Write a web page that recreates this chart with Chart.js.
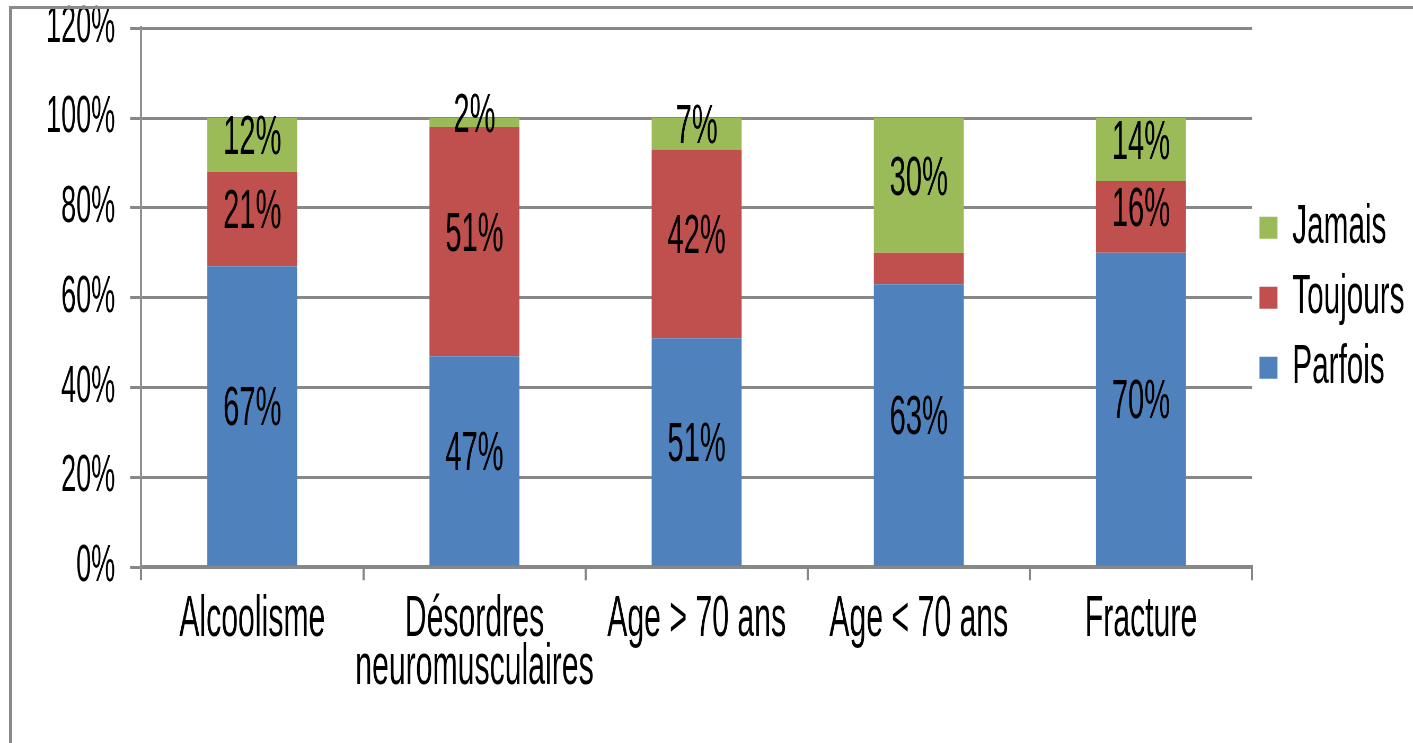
<!DOCTYPE html>
<html lang="fr">
<head>
<meta charset="utf-8">
<title>Parfois / Toujours / Jamais</title>
<script src="https://cdn.jsdelivr.net/npm/chart.js@4.4.0/dist/chart.umd.min.js"></script>
<style>
    html, body {
        margin: 0;
        padding: 0;
        background: #ffffff;
        overflow: hidden;
    }
    #wrap {
        position: relative;
        width: 1413px;
        height: 743px;
        overflow: hidden;
    }
    /* the original picture is squeezed horizontally, so the chart is drawn wide and compressed */
    #chart {
        position: absolute;
        left: 0;
        top: 0;
        transform: scaleX(0.53);
        transform-origin: 0 0;
    }
    #frame {
        position: absolute;
        left: 9px;
        top: 6px;
        width: 1420px;
        height: 760px;
        border-top: 3px solid #8a8a8a;
        border-left: 3px solid #8a8a8a;
        pointer-events: none;
    }
</style>
</head>
<body>
<div id="wrap">
    <canvas id="chart" width="2666" height="743"></canvas>
    <div id="frame"></div>
</div>
<script>
const categories = ['Alcoolisme', ['Désordres', 'neuromusculaires'], 'Age > 70 ans', 'Age < 70 ans', 'Fracture'];
const parfois = [67, 47, 51, 63, 70];
const toujours = [21, 51, 42, 7, 16];
const jamais = [12, 2, 7, 30, 14];
// which segments carry a value label (the small red one of "Age < 70 ans" has none)
const parfoisShown = [true, true, true, true, true];
const toujoursShown = [true, true, true, false, true];
const jamaisShown = [true, true, true, true, true];
const yTickLabels = ['0%', '20%', '40%', '60%', '80%', '100%', '120%'];

const FONT = "'Liberation Sans', Arial, sans-serif";
const GRID = '#878787';

// draws the percentages in the middle of each segment
const segmentLabels = {
    id: 'segmentLabels',
    afterDatasetsDraw(chart) {
        const ctx = chart.ctx;
        ctx.save();
        ctx.font = '55px ' + FONT;
        ctx.fillStyle = '#000000';
        ctx.textAlign = 'center';
        ctx.textBaseline = 'middle';
        chart.data.datasets.forEach((ds, i) => {
            const meta = chart.getDatasetMeta(i);
            meta.data.forEach((bar, j) => {
                if (!ds.shown[j]) return;
                const mid = (bar.y + bar.base) / 2 - 6;
                ctx.fillText(ds.data[j] + '%', bar.x, mid);
            });
        });
        ctx.restore();
    }
};

function makeDataset(label, data, color, shown) {
    return {
        label: label,
        data: data,
        shown: shown,
        backgroundColor: color,
        borderWidth: 0,
        categoryPercentage: 1,
        barPercentage: 0.405
    };
}

new Chart(document.getElementById('chart'), {
    type: 'bar',
    data: {
        labels: categories,
        datasets: [
            makeDataset('Parfois', parfois, '#4f81bd', parfoisShown),
            makeDataset('Toujours', toujours, '#c0504d', toujoursShown),
            makeDataset('Jamais', jamais, '#9bbb59', jamaisShown)
        ]
    },
    options: {
        responsive: false,
        animation: false,
        layout: {
            padding: { left: 59, right: 6, top: 0, bottom: 35 }
        },
        plugins: {
            legend: {
                position: 'right',
                fullSize: false,
                reverse: true,
                labels: {
                    color: '#000000',
                    boxWidth: 34,
                    boxHeight: 22,
                    padding: 14,
                    font: { size: 56, family: FONT }
                }
            },
            tooltip: { enabled: false }
        },
        scales: {
            x: {
                stacked: true,
                grid: {
                    drawOnChartArea: false,
                    drawTicks: true,
                    tickLength: 13,
                    lineWidth: 4,
                    color: GRID
                },
                border: { display: true, width: 4, color: GRID },
                ticks: {
                    color: '#000000',
                    padding: 16,
                    maxRotation: 0,
                    autoSkip: false,
                    font: { size: 57, family: FONT, lineHeight: 0.84 }
                }
            },
            y: {
                stacked: true,
                min: 0,
                max: 120,
                grid: {
                    color: GRID,
                    lineWidth: 3,
                    tickLength: 21
                },
                border: { display: true, width: 4, color: '#8f8f8f' },
                ticks: {
                    stepSize: 20,
                    color: '#000000',
                    padding: 28,
                    // tiny line height keeps the top label from pushing the plot down
                    font: { size: 51, family: FONT, lineHeight: 0.01 },
                    callback: (value, index) => yTickLabels[index]
                }
            }
        }
    },
    plugins: [segmentLabels]
});
</script>
</body>
</html>
